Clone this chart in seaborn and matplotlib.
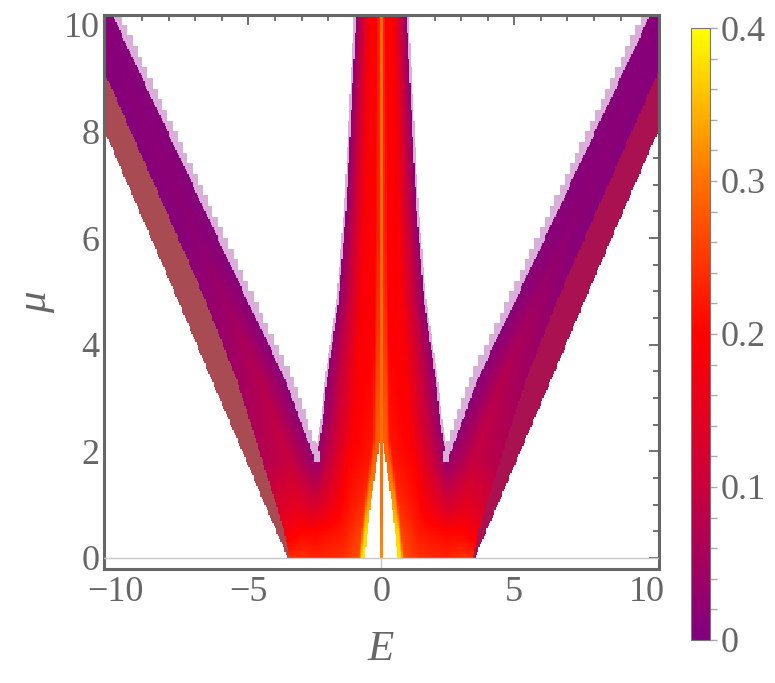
import numpy as np
import matplotlib
matplotlib.use("Agg")
import matplotlib.pyplot as plt
import seaborn as sns
from matplotlib.colors import LinearSegmentedColormap, ListedColormap
from matplotlib.ticker import FixedLocator, MultipleLocator

# region edges: |E| at a given mu
mu_outer = [0, 4.84, 8.0, 10.2]
e_outer = [3.52, 7.66, 10.40, 12.30]
mu_band = [0, 0.53, 1.46, 3.34, 4.84, 9.15, 10.2]
e_band = [3.45, 3.67, 4.24, 5.43, 6.62, 10.44, 11.37]
mu_arm = [0, 1.8, 2.5, 3.34, 4.84, 7.0, 10.2]
e_arm = [2.48, 2.48, 3.0, 3.61, 5.05, 7.1, 10.13]
mu_lobe = [0, 1.8, 2.5, 3.34, 4.84, 6.59, 10.2]
e_lobe = [2.48, 2.48, 2.22, 2.04, 1.60, 1.31, 0.94]
mu_gap = [0, 1.0, 2.2, 10.2]
e_gap = [0.62, 0.40, 0.06, 0.06]
e_core = 0.06
apex_mu = 1.8

# colour values along mu (same scale as the colour bar)
mu_val = [0, 0.5, 1, 1.8, 3, 4, 5, 6, 10.2]
core_val = [0.32, 0.31, 0.3, 0.3, 0.3, 0.3, 0.3, 0.3, 0.3]
lobe_inner = [0.38, 0.37, 0.33, 0.29, 0.27, 0.25, 0.24, 0.23, 0.23]
lobe_near = [0.27, 0.26, 0.24, 0.22, 0.21, 0.2, 0.2, 0.2, 0.2]
lobe_mid = [0.24, 0.22, 0.21, 0.2, 0.19, 0.19, 0.19, 0.19, 0.19]
lobe_edge = [0.23, 0.2, 0.12, 0.03, 0.02, 0.02, 0.02, 0.02, 0.02]
arm_inner = [0.23, 0.2, 0.12, 0.03, 0.01, 0.01, 0.01, 0.01, 0.01]
arm_mid = [0.24, 0.2, 0.15, 0.1, 0.08, 0.06, 0.04, 0.02, 0.01]
arm_edge = [0.24, 0.17, 0.12, 0.07, 0.05, 0.035, 0.02, 0.01, 0.01]

cbar_ticks = [0, 0.1, 0.2, 0.3, 0.4]
x_ticks = [-10, -5, 0, 5, 10]
y_ticks = [0, 2, 4, 6, 8, 10]

GREY = "#666666"
dE, dmu = 0.05, 0.05
E0, MU0 = -10.45, -0.2
E = np.linspace(E0 + dE / 2, -E0 - dE / 2, 418)
MU = np.linspace(MU0 + dmu / 2, 10.2 - dmu / 2, 208)
absE = np.abs(E)

field = np.full((len(MU), len(E)), np.nan)
bands = np.full_like(field, np.nan)

for i, mu in enumerate(MU):
    if mu < 0:
        continue
    o = np.interp(mu, mu_outer, e_outer)
    b = np.interp(mu, mu_band, e_band)
    a = np.interp(mu, mu_arm, e_arm)
    s = np.interp(mu, mu_lobe, e_lobe)
    g = np.interp(mu, mu_gap, e_gap)
    v = lambda arr: np.interp(mu, mu_val, arr)

    row = field[i]
    row[absE < e_core] = v(core_val)
    lobe = (absE >= g) & (absE < s)
    t = (absE[lobe] - g) / (s - g)
    row[lobe] = np.interp(t, [0, 0.06, 0.12, 0.45, 1],
                          [v(lobe_inner), v(lobe_inner), v(lobe_near),
                           v(lobe_mid), v(lobe_edge)])
    arm = (absE >= a) & (absE < b)
    t = (absE[arm] - a) / (b - a)
    row[arm] = np.interp(t, [0, 0.5, 1], [v(arm_inner), v(arm_mid), v(arm_edge)])

    band = (absE >= b) & (absE < o)
    bands[i][band & (E < 0)] = 0
    bands[i][band & (E > 0)] = 1
    if mu >= apex_mu:
        # stepped pale rim, as the sampled edge in the picture
        mu_step = apex_mu + np.floor((mu - apex_mu) / 0.2) * 0.2
        a_step = np.interp(mu_step, mu_arm, e_arm)
        bands[i][(absE >= a_step - 0.2) & (absE < a)] = 2
        bands[i][(absE >= s) & (absE < s + 0.08)] = 2

cmap = LinearSegmentedColormap.from_list(
    "sunset", [(0, "#800080"), (0.25, "#C8003C"), (0.5, "#FF0000"),
               (0.75, "#FF7000"), (1, "#FFFF00")])
band_cmap = ListedColormap(["#A84B53", "#AA1150", "#D9AED9"])

sns.set_style("white")
plt.rcParams["font.family"] = ["Liberation Serif", "DejaVu Serif"]

fig = plt.figure(figsize=(7.75, 6.83), dpi=100)
ax = fig.add_axes([0.1338, 0.1669, 0.7165, 0.8116])
cax = fig.add_axes([0.8916, 0.063, 0.0245, 0.896])

sns.heatmap(field, cmap=cmap, vmin=0, vmax=0.4, ax=ax, cbar_ax=cax,
            xticklabels=False, yticklabels=False)
sns.heatmap(bands, cmap=band_cmap, vmin=-0.5, vmax=2.5, ax=ax, cbar=False,
            xticklabels=False, yticklabels=False)


def xi(vals):
    return [(x - E0) / dE for x in vals]


def yi(vals):
    return [(y - MU0) / dmu for y in vals]


ax.set_xlim(*xi([-10.44, 10.44]))
ax.set_ylim(*yi([-0.21, 10.19]))
ax.axhline(yi([0])[0], color="#c8c8c8", lw=1, zorder=3)
ax.axvline(xi([0])[0], color="#c8c8c8", lw=1, zorder=0.5)

ax.xaxis.set_major_locator(FixedLocator(xi(x_ticks)))
ax.xaxis.set_minor_locator(FixedLocator(xi(range(-10, 11))))
ax.yaxis.set_major_locator(FixedLocator(yi(y_ticks)))
ax.yaxis.set_minor_locator(FixedLocator(yi(np.arange(0, 10.01, 0.5))))
ax.set_xticklabels([str(x).replace("-", "\u2212") for x in x_ticks])
ax.set_yticklabels([str(y) for y in y_ticks])
ax.tick_params(which="both", direction="in", top=True, right=True,
               color=GREY, labelcolor=GREY, labelsize=26, width=1.3)
ax.tick_params(which="major", length=7)
ax.tick_params(which="minor", length=4)
ax.tick_params(axis="x", pad=5)
ax.tick_params(axis="y", pad=3)
for sp in ax.spines.values():
    sp.set_visible(True)
    sp.set_color(GREY)
    sp.set_linewidth(2.2)

cbar = ax.collections[0].colorbar
cbar.set_ticks(cbar_ticks)
cbar.set_ticklabels(["0", "0.1", "0.2", "0.3", "0.4"])
cbar.ax.yaxis.set_minor_locator(MultipleLocator(0.02))
cbar.outline.set_linewidth(0.8)
cbar.outline.set_edgecolor("#777777")
cax.tick_params(which="both", direction="out", color="#aaaaaa", length=5,
                width=1, labelcolor=GREY, labelsize=26, pad=3)

fig.text(381 / 775, 1 - 650 / 683, "E", fontsize=31, style="italic",
         color=GREY, ha="center", va="center")
fig.text(36 / 775, 1 - 302 / 683, "\u03bc", fontsize=31, style="italic",
         color=GREY, ha="center", va="center", rotation=90)

fig.savefig("out.png", dpi=100)
